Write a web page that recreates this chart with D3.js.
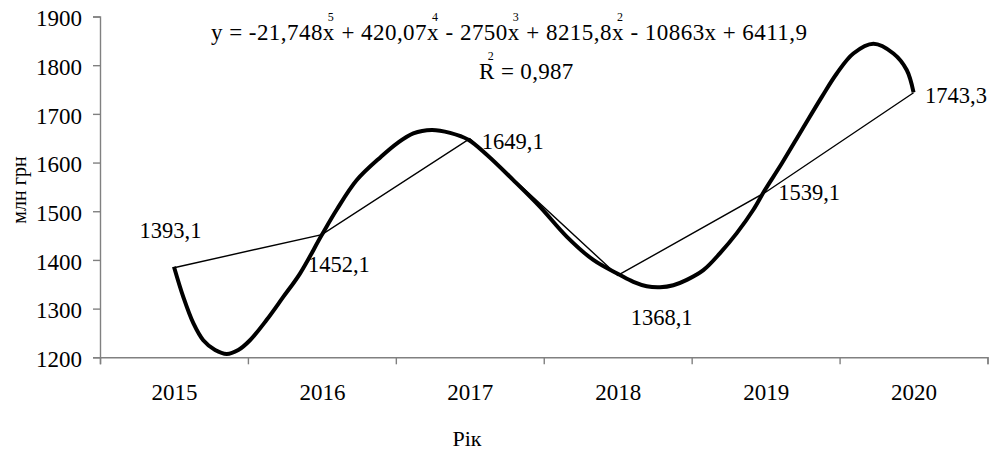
<!DOCTYPE html>
<html><head><meta charset="utf-8">
<script src="https://cdn.jsdelivr.net/npm/d3@7"></script>
<style>
body{margin:0;background:#fff}
svg text{font-family:"Liberation Serif","Times New Roman",serif;fill:#000}
</style>
</head><body>
<svg id="c" width="991" height="452"></svg>
<script>
// ---- data ----
const years = [2015, 2016, 2017, 2018, 2019, 2020];
const values = [1384, 1452.1, 1649.1, 1368.1, 1539.1, 1743.3];
const valueLabels = ["1393,1", "1452,1", "1649,1", "1368,1", "1539,1", "1743,3"];
// polynomial trend line (x in years)
const trendX = [2015.000, 2015.063, 2015.131, 2015.198, 2015.278, 2015.357, 2015.435, 2015.514, 2015.627, 2015.739,
  2015.852, 2015.999, 2016.100, 2016.236, 2016.400, 2016.506, 2016.618, 2016.743, 2016.867, 2016.990,
  2017.115, 2017.294, 2017.475, 2017.655, 2017.835, 2018.016, 2018.106, 2018.196, 2018.286, 2018.376,
  2018.467, 2018.579, 2018.692, 2018.805, 2018.917, 2018.992, 2019.109, 2019.245, 2019.380, 2019.481,
  2019.593, 2019.729, 2019.864, 2019.954, 2020.000];
const trendY = [1386, 1324, 1270, 1235, 1215, 1207, 1215, 1235, 1277, 1324,
  1372, 1451, 1503, 1564, 1612, 1639, 1660, 1667, 1661, 1647,
  1616, 1564, 1509, 1448, 1400, 1369, 1355, 1346, 1344, 1348,
  1359, 1379, 1414, 1455, 1503, 1542, 1598, 1667, 1735, 1783,
  1824, 1844, 1824, 1790, 1744];
const yTicks = [1200, 1300, 1400, 1500, 1600, 1700, 1800, 1900];
const xBoundaries = [2014.5, 2015.5, 2016.5, 2017.5, 2018.5, 2019.5, 2020.5];
const equationParts = [["y = -21,748x", "5"], [" + 420,07x", "4"], [" - 2750x", "3"], [" + 8215,8x", "2"], [" - 10863x + 6411,9", ""]];
const r2Parts = [["R", "2"], [" = 0,987", ""]];
const yTitle = "млн грн";
const xTitle = "Рік";

// ---- layout ----
const FS = 23;
const svg = d3.select("#c");
const x = d3.scaleLinear().domain([2014.5, 2020.5]).range([100, 987.5]);
const y = d3.scaleLinear().domain([1200, 1900]).range([357.3, 16.5]);
const axisColor = "#808080";

// y axis
const gy = svg.append("g").attr("transform", "translate(100,0)")
  .call(d3.axisLeft(y).tickValues(yTicks).tickSize(7).tickPadding(11).tickFormat(d3.format("d")));
// x axis tick marks
const gx = svg.append("g").attr("transform", `translate(0,${y(1200)})`)
  .call(d3.axisBottom(x).tickValues(xBoundaries).tickSize(7).tickFormat(""));
// x axis labels
const gxl = svg.append("g").attr("transform", `translate(0,${y(1200)})`)
  .call(d3.axisBottom(x).tickValues(years).tickSize(0).tickPadding(26.5).tickFormat(d3.format("d")));
gxl.select(".domain").remove();

[gy, gx].forEach(g => {
  g.select(".domain").attr("stroke", axisColor).attr("stroke-width", 1.4);
  g.selectAll(".tick line").attr("stroke", axisColor).attr("stroke-width", 1.4);
});
[gy, gxl].forEach(g => g.selectAll(".tick text").attr("font-size", FS).attr("fill", "#000"));
gy.selectAll(".tick text").attr("dy", "0.4em");

// axis titles
svg.append("text").attr("transform", "translate(26,190) rotate(-90)")
  .attr("text-anchor", "middle").attr("font-size", 20).text(yTitle);
svg.append("text").attr("x", 467).attr("y", 446)
  .attr("text-anchor", "middle").attr("font-size", 22).text(xTitle);

// data line
const line = d3.line().x(d => x(d[0])).y(d => y(d[1]));
svg.append("path").datum(years.map((yr, i) => [yr, values[i]]))
  .attr("d", line).attr("fill", "none").attr("stroke", "#000").attr("stroke-width", 1.4);

// trend line
const tline = d3.line().x(d => x(d[0])).y(d => y(d[1])).curve(d3.curveCatmullRom);
svg.append("path").datum(trendX.map((t, i) => [t, trendY[i]]))
  .attr("d", tline).attr("fill", "none").attr("stroke", "#000").attr("stroke-width", 4)
  .attr("stroke-linejoin", "round").attr("stroke-linecap", "butt");

// data labels
const labelOffsets = [[-3.5, -30, "middle"], [-14, 37.5, "start"], [12, 10.5, "start"], [13, 49.6, "start"], [12.5, 8, "start"], [11.5, 10, "start"]];
svg.append("g").selectAll("text").data(years).join("text")
  .attr("x", (d, i) => x(d) + labelOffsets[i][0])
  .attr("y", (d, i) => y(values[i]) + labelOffsets[i][1])
  .attr("text-anchor", (d, i) => labelOffsets[i][2])
  .attr("font-size", 22.5)
  .text((d, i) => valueLabels[i]);

// equation & R2
function richText(parts, px, py, spacing) {
  const t = svg.append("text").attr("x", px).attr("y", py).attr("font-size", FS)
    .attr("letter-spacing", spacing);
  let raised = false;
  parts.forEach(([main, sup]) => {
    const m = t.append("tspan").text(main);
    if (raised) { m.attr("dy", 19).attr("dx", 1); raised = false; }
    if (sup) {
      t.append("tspan").attr("font-size", 12).attr("dx", -7).attr("dy", -19).text(sup);
      raised = true;
    }
  });
  return t;
}
richText(equationParts, 211, 40, 0.45);
richText(r2Parts, 479, 79, 0.3);
</script>
</body></html>
